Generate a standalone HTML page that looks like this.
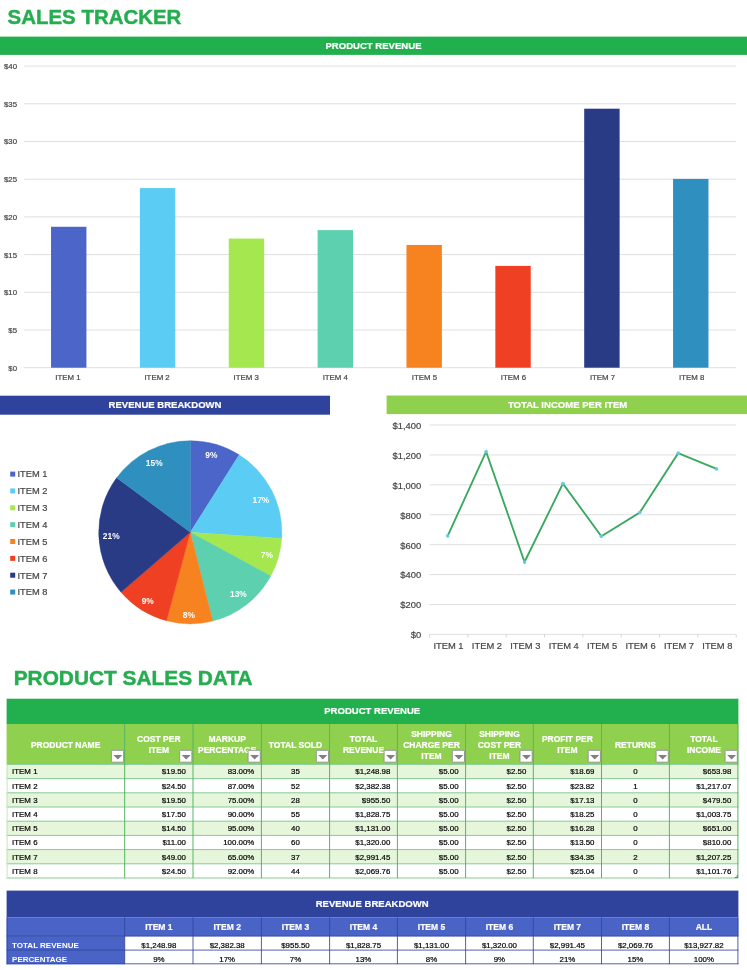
<!DOCTYPE html>
<html><head><meta charset="utf-8"><title>Sales Tracker</title>
<style>
html,body{margin:0;padding:0;background:#fff;}
body{width:747px;height:970px;position:relative;overflow:hidden;font-family:"Liberation Sans",Arial,sans-serif;}
svg{position:absolute;left:0;top:0;display:block;}
svg text{font-family:"Liberation Sans",Arial,sans-serif;}
.g{fill:#454545;stroke:#454545;stroke-width:0.2px;}
.ttl{font-weight:bold;fill:#25ad50;stroke:#25ad50;stroke-width:0.45px;}
.bd{font-weight:bold;fill:#fff;stroke:#fff;stroke-width:0.2px;text-anchor:middle;}
.hd{font-weight:bold;fill:#fff;stroke:#fff;stroke-width:0.2px;text-anchor:middle;}
.c{fill:#000;stroke:#000;stroke-width:0.2px;}
.cw{fill:#fff;font-weight:bold;}
.pl{font-weight:bold;fill:#fff;text-anchor:middle;}
</style></head><body>

<svg width="747" height="970" viewBox="0 0 747 970">
<text x="7.60" y="23.92" font-size="20.45" class="ttl">SALES TRACKER</text>
<text x="13.70" y="685.46" font-size="20.85" class="ttl">PRODUCT SALES DATA</text>
<rect x="0.00" y="36.60" width="747.00" height="18.30" fill="#22b04f"/>
<text x="373.50" y="49.07" font-size="9.55" class="bd">PRODUCT REVENUE</text>
<rect x="0.00" y="395.70" width="330.00" height="19.00" fill="#2f439c"/>
<text x="165.00" y="408.22" font-size="9.55" class="bd">REVENUE BREAKDOWN</text>
<rect x="386.60" y="395.50" width="360.40" height="18.60" fill="#8fd14f"/>
<text x="567.60" y="407.82" font-size="9.55" class="bd">TOTAL INCOME PER ITEM</text>
<line x1="24.20" y1="367.70" x2="736.00" y2="367.70" stroke="#d4d4d4" stroke-width="0.75"/>
<text x="17.00" y="370.69" font-size="7.8" class="g" text-anchor="end">$0</text>
<line x1="24.20" y1="330.00" x2="736.00" y2="330.00" stroke="#d4d4d4" stroke-width="0.75"/>
<text x="17.00" y="332.99" font-size="7.8" class="g" text-anchor="end">$5</text>
<line x1="24.20" y1="292.30" x2="736.00" y2="292.30" stroke="#d4d4d4" stroke-width="0.75"/>
<text x="17.00" y="295.29" font-size="7.8" class="g" text-anchor="end">$10</text>
<line x1="24.20" y1="254.60" x2="736.00" y2="254.60" stroke="#d4d4d4" stroke-width="0.75"/>
<text x="17.00" y="257.59" font-size="7.8" class="g" text-anchor="end">$15</text>
<line x1="24.20" y1="216.90" x2="736.00" y2="216.90" stroke="#d4d4d4" stroke-width="0.75"/>
<text x="17.00" y="219.89" font-size="7.8" class="g" text-anchor="end">$20</text>
<line x1="24.20" y1="179.20" x2="736.00" y2="179.20" stroke="#d4d4d4" stroke-width="0.75"/>
<text x="17.00" y="182.19" font-size="7.8" class="g" text-anchor="end">$25</text>
<line x1="24.20" y1="141.50" x2="736.00" y2="141.50" stroke="#d4d4d4" stroke-width="0.75"/>
<text x="17.00" y="144.49" font-size="7.8" class="g" text-anchor="end">$30</text>
<line x1="24.20" y1="103.80" x2="736.00" y2="103.80" stroke="#d4d4d4" stroke-width="0.75"/>
<text x="17.00" y="106.79" font-size="7.8" class="g" text-anchor="end">$35</text>
<line x1="24.20" y1="66.10" x2="736.00" y2="66.10" stroke="#d4d4d4" stroke-width="0.75"/>
<text x="17.00" y="69.09" font-size="7.8" class="g" text-anchor="end">$40</text>
<rect x="51.03" y="226.78" width="35.40" height="140.92" fill="#4b65c9"/>
<text x="68.00" y="380.21" font-size="7.85" class="g" text-anchor="middle">ITEM 1</text>
<rect x="139.89" y="188.10" width="35.40" height="179.60" fill="#5bccf3"/>
<text x="157.09" y="380.21" font-size="7.85" class="g" text-anchor="middle">ITEM 2</text>
<rect x="228.76" y="238.54" width="35.40" height="129.16" fill="#a5e74f"/>
<text x="246.18" y="380.21" font-size="7.85" class="g" text-anchor="middle">ITEM 3</text>
<rect x="317.62" y="230.09" width="35.40" height="137.61" fill="#5dd0b0"/>
<text x="335.27" y="380.21" font-size="7.85" class="g" text-anchor="middle">ITEM 4</text>
<rect x="406.48" y="244.95" width="35.40" height="122.75" fill="#f68220"/>
<text x="424.36" y="380.21" font-size="7.85" class="g" text-anchor="middle">ITEM 5</text>
<rect x="495.34" y="265.91" width="35.40" height="101.79" fill="#ef4023"/>
<text x="513.45" y="380.21" font-size="7.85" class="g" text-anchor="middle">ITEM 6</text>
<rect x="584.21" y="108.70" width="35.40" height="259.00" fill="#283b84"/>
<text x="602.54" y="380.21" font-size="7.85" class="g" text-anchor="middle">ITEM 7</text>
<rect x="673.07" y="178.90" width="35.40" height="188.80" fill="#2f8fbe"/>
<text x="691.63" y="380.21" font-size="7.85" class="g" text-anchor="middle">ITEM 8</text>
<path d="M190.3,532.3 L190.30,440.70 A91.6,91.6 0 0 1 239.22,454.86 Z" fill="#4b65c9" stroke="#4b65c9" stroke-width="0.4"/>
<path d="M190.3,532.3 L239.22,454.86 A91.6,91.6 0 0 1 281.69,538.47 Z" fill="#5bccf3" stroke="#5bccf3" stroke-width="0.4"/>
<path d="M190.3,532.3 L281.69,538.47 A91.6,91.6 0 0 1 270.75,576.09 Z" fill="#a5e74f" stroke="#a5e74f" stroke-width="0.4"/>
<path d="M190.3,532.3 L270.75,576.09 A91.6,91.6 0 0 1 212.73,621.11 Z" fill="#5dd0b0" stroke="#5dd0b0" stroke-width="0.4"/>
<path d="M190.3,532.3 L212.73,621.11 A91.6,91.6 0 0 1 166.50,620.75 Z" fill="#f68220" stroke="#f68220" stroke-width="0.4"/>
<path d="M190.3,532.3 L166.50,620.75 A91.6,91.6 0 0 1 120.98,592.18 Z" fill="#ef4023" stroke="#ef4023" stroke-width="0.4"/>
<path d="M190.3,532.3 L120.98,592.18 A91.6,91.6 0 0 1 116.67,477.81 Z" fill="#283b84" stroke="#283b84" stroke-width="0.4"/>
<path d="M190.3,532.3 L116.67,477.81 A91.6,91.6 0 0 1 190.30,440.70 Z" fill="#2f8fbe" stroke="#2f8fbe" stroke-width="0.4"/>
<text x="211.30" y="458.11" font-size="8.4" class="pl">9%</text>
<text x="260.90" y="502.71" font-size="8.4" class="pl">17%</text>
<text x="266.90" y="557.71" font-size="8.4" class="pl">7%</text>
<text x="238.40" y="597.31" font-size="8.4" class="pl">13%</text>
<text x="188.80" y="617.81" font-size="8.4" class="pl">8%</text>
<text x="147.70" y="603.81" font-size="8.4" class="pl">9%</text>
<text x="111.20" y="538.71" font-size="8.4" class="pl">21%</text>
<text x="154.20" y="465.61" font-size="8.4" class="pl">15%</text>
<rect x="10.20" y="471.60" width="5.00" height="5.00" fill="#4b65c9"/>
<text x="17.50" y="477.43" font-size="9.3" class="g">ITEM 1</text>
<rect x="10.20" y="488.45" width="5.00" height="5.00" fill="#5bccf3"/>
<text x="17.50" y="494.28" font-size="9.3" class="g">ITEM 2</text>
<rect x="10.20" y="505.30" width="5.00" height="5.00" fill="#a5e74f"/>
<text x="17.50" y="511.13" font-size="9.3" class="g">ITEM 3</text>
<rect x="10.20" y="522.15" width="5.00" height="5.00" fill="#5dd0b0"/>
<text x="17.50" y="527.98" font-size="9.3" class="g">ITEM 4</text>
<rect x="10.20" y="539.00" width="5.00" height="5.00" fill="#f68220"/>
<text x="17.50" y="544.83" font-size="9.3" class="g">ITEM 5</text>
<rect x="10.20" y="555.85" width="5.00" height="5.00" fill="#ef4023"/>
<text x="17.50" y="561.68" font-size="9.3" class="g">ITEM 6</text>
<rect x="10.20" y="572.70" width="5.00" height="5.00" fill="#283b84"/>
<text x="17.50" y="578.53" font-size="9.3" class="g">ITEM 7</text>
<rect x="10.20" y="589.55" width="5.00" height="5.00" fill="#2f8fbe"/>
<text x="17.50" y="595.38" font-size="9.3" class="g">ITEM 8</text>
<line x1="429.50" y1="634.40" x2="736.20" y2="634.40" stroke="#d4d4d4" stroke-width="0.75"/>
<text x="421.20" y="638.27" font-size="9.4" class="g" text-anchor="end">$0</text>
<line x1="429.50" y1="604.49" x2="736.20" y2="604.49" stroke="#d4d4d4" stroke-width="0.75"/>
<text x="421.20" y="608.36" font-size="9.4" class="g" text-anchor="end">$200</text>
<line x1="429.50" y1="574.58" x2="736.20" y2="574.58" stroke="#d4d4d4" stroke-width="0.75"/>
<text x="421.20" y="578.45" font-size="9.4" class="g" text-anchor="end">$400</text>
<line x1="429.50" y1="544.67" x2="736.20" y2="544.67" stroke="#d4d4d4" stroke-width="0.75"/>
<text x="421.20" y="548.54" font-size="9.4" class="g" text-anchor="end">$600</text>
<line x1="429.50" y1="514.76" x2="736.20" y2="514.76" stroke="#d4d4d4" stroke-width="0.75"/>
<text x="421.20" y="518.63" font-size="9.4" class="g" text-anchor="end">$800</text>
<line x1="429.50" y1="484.85" x2="736.20" y2="484.85" stroke="#d4d4d4" stroke-width="0.75"/>
<text x="421.20" y="488.72" font-size="9.4" class="g" text-anchor="end">$1,000</text>
<line x1="429.50" y1="454.94" x2="736.20" y2="454.94" stroke="#d4d4d4" stroke-width="0.75"/>
<text x="421.20" y="458.81" font-size="9.4" class="g" text-anchor="end">$1,200</text>
<line x1="429.50" y1="425.03" x2="736.20" y2="425.03" stroke="#d4d4d4" stroke-width="0.75"/>
<text x="421.20" y="428.90" font-size="9.4" class="g" text-anchor="end">$1,400</text>
<line x1="429.50" y1="634.40" x2="429.50" y2="637.40" stroke="#d4d4d4" stroke-width="1"/>
<line x1="467.84" y1="634.40" x2="467.84" y2="637.40" stroke="#d4d4d4" stroke-width="1"/>
<line x1="506.18" y1="634.40" x2="506.18" y2="637.40" stroke="#d4d4d4" stroke-width="1"/>
<line x1="544.51" y1="634.40" x2="544.51" y2="637.40" stroke="#d4d4d4" stroke-width="1"/>
<line x1="582.85" y1="634.40" x2="582.85" y2="637.40" stroke="#d4d4d4" stroke-width="1"/>
<line x1="621.19" y1="634.40" x2="621.19" y2="637.40" stroke="#d4d4d4" stroke-width="1"/>
<line x1="659.53" y1="634.40" x2="659.53" y2="637.40" stroke="#d4d4d4" stroke-width="1"/>
<line x1="697.86" y1="634.40" x2="697.86" y2="637.40" stroke="#d4d4d4" stroke-width="1"/>
<line x1="736.20" y1="634.40" x2="736.20" y2="637.40" stroke="#d4d4d4" stroke-width="1"/>
<text x="448.50" y="649.05" font-size="9.35" class="g" text-anchor="middle">ITEM 1</text>
<text x="486.91" y="649.05" font-size="9.35" class="g" text-anchor="middle">ITEM 2</text>
<text x="525.32" y="649.05" font-size="9.35" class="g" text-anchor="middle">ITEM 3</text>
<text x="563.73" y="649.05" font-size="9.35" class="g" text-anchor="middle">ITEM 4</text>
<text x="602.14" y="649.05" font-size="9.35" class="g" text-anchor="middle">ITEM 5</text>
<text x="640.55" y="649.05" font-size="9.35" class="g" text-anchor="middle">ITEM 6</text>
<text x="678.96" y="649.05" font-size="9.35" class="g" text-anchor="middle">ITEM 7</text>
<text x="717.37" y="649.05" font-size="9.35" class="g" text-anchor="middle">ITEM 8</text>
<polyline fill="none" stroke="#38a95f" stroke-width="1.85" stroke-linejoin="miter" points="447.70,535.90 486.11,451.69 524.52,561.99 562.93,483.59 601.34,536.34 639.75,512.56 678.16,453.16 716.57,468.93"/>
<circle cx="447.70" cy="535.90" r="1.8" fill="#63c9e8"/>
<circle cx="486.11" cy="451.69" r="1.8" fill="#63c9e8"/>
<circle cx="524.52" cy="561.99" r="1.8" fill="#63c9e8"/>
<circle cx="562.93" cy="483.59" r="1.8" fill="#63c9e8"/>
<circle cx="601.34" cy="536.34" r="1.8" fill="#63c9e8"/>
<circle cx="639.75" cy="512.56" r="1.8" fill="#63c9e8"/>
<circle cx="678.16" cy="453.16" r="1.8" fill="#63c9e8"/>
<circle cx="716.57" cy="468.93" r="1.8" fill="#63c9e8"/>
<rect x="6.60" y="698.70" width="731.80" height="25.30" fill="#22b04f"/>
<text x="372.20" y="714.27" font-size="9.55" class="bd">PRODUCT REVENUE</text>
<rect x="6.60" y="724.00" width="731.80" height="40.40" fill="#8fd14f"/>
<rect x="6.60" y="764.40" width="731.80" height="14.20" fill="#e6f6da"/>
<rect x="6.60" y="778.60" width="731.80" height="14.20" fill="#ffffff"/>
<rect x="6.60" y="792.80" width="731.80" height="14.20" fill="#e6f6da"/>
<rect x="6.60" y="807.00" width="731.80" height="14.20" fill="#ffffff"/>
<rect x="6.60" y="821.20" width="731.80" height="14.20" fill="#e6f6da"/>
<rect x="6.60" y="835.40" width="731.80" height="14.20" fill="#ffffff"/>
<rect x="6.60" y="849.60" width="731.80" height="14.20" fill="#e6f6da"/>
<rect x="6.60" y="863.80" width="731.80" height="14.20" fill="#ffffff"/>
<line x1="6.60" y1="764.40" x2="738.40" y2="764.40" stroke="#86cb96" stroke-width="1"/>
<line x1="6.60" y1="778.60" x2="738.40" y2="778.60" stroke="#86cb96" stroke-width="1"/>
<line x1="6.60" y1="792.80" x2="738.40" y2="792.80" stroke="#86cb96" stroke-width="1"/>
<line x1="6.60" y1="807.00" x2="738.40" y2="807.00" stroke="#86cb96" stroke-width="1"/>
<line x1="6.60" y1="821.20" x2="738.40" y2="821.20" stroke="#86cb96" stroke-width="1"/>
<line x1="6.60" y1="835.40" x2="738.40" y2="835.40" stroke="#86cb96" stroke-width="1"/>
<line x1="6.60" y1="849.60" x2="738.40" y2="849.60" stroke="#86cb96" stroke-width="1"/>
<line x1="6.60" y1="863.80" x2="738.40" y2="863.80" stroke="#86cb96" stroke-width="1"/>
<line x1="6.60" y1="878.00" x2="738.40" y2="878.00" stroke="#86cb96" stroke-width="1"/>
<line x1="7.10" y1="764.40" x2="7.10" y2="878.00" stroke="#c4e6bb" stroke-width="1"/>
<line x1="124.70" y1="724.00" x2="124.70" y2="878.00" stroke="#55b662" stroke-width="1"/>
<line x1="193.00" y1="724.00" x2="193.00" y2="878.00" stroke="#55b662" stroke-width="1"/>
<line x1="261.40" y1="724.00" x2="261.40" y2="878.00" stroke="#55b662" stroke-width="1"/>
<line x1="329.60" y1="724.00" x2="329.60" y2="878.00" stroke="#55b662" stroke-width="1"/>
<line x1="397.40" y1="724.00" x2="397.40" y2="878.00" stroke="#55b662" stroke-width="1"/>
<line x1="465.60" y1="724.00" x2="465.60" y2="878.00" stroke="#55b662" stroke-width="1"/>
<line x1="533.30" y1="724.00" x2="533.30" y2="878.00" stroke="#55b662" stroke-width="1"/>
<line x1="601.50" y1="724.00" x2="601.50" y2="878.00" stroke="#55b662" stroke-width="1"/>
<line x1="669.40" y1="724.00" x2="669.40" y2="878.00" stroke="#55b662" stroke-width="1"/>
<line x1="737.90" y1="724.00" x2="737.90" y2="878.00" stroke="#55b662" stroke-width="1"/>
<text x="65.65" y="747.94" font-size="8.5" class="hd">PRODUCT NAME</text>
<rect x="111.40" y="750.30" width="12.2" height="11.9" fill="#fff" stroke="#8f8f8f" stroke-width="0.9" rx="0.8"/>
<path d="M113.40,755.0 L122.40,755.0 L117.90,759.40 Z" fill="#808080"/>
<text x="158.85" y="742.39" font-size="8.5" class="hd">COST PER</text>
<text x="158.85" y="753.49" font-size="8.5" class="hd">ITEM</text>
<rect x="179.70" y="750.30" width="12.2" height="11.9" fill="#fff" stroke="#8f8f8f" stroke-width="0.9" rx="0.8"/>
<path d="M181.70,755.0 L190.70,755.0 L186.20,759.40 Z" fill="#808080"/>
<text x="227.20" y="742.39" font-size="8.5" class="hd">MARKUP</text>
<text x="227.20" y="753.49" font-size="8.5" class="hd">PERCENTAGE</text>
<rect x="248.10" y="750.30" width="12.2" height="11.9" fill="#fff" stroke="#8f8f8f" stroke-width="0.9" rx="0.8"/>
<path d="M250.10,755.0 L259.10,755.0 L254.60,759.40 Z" fill="#808080"/>
<text x="295.50" y="747.94" font-size="8.5" class="hd">TOTAL SOLD</text>
<rect x="316.30" y="750.30" width="12.2" height="11.9" fill="#fff" stroke="#8f8f8f" stroke-width="0.9" rx="0.8"/>
<path d="M318.30,755.0 L327.30,755.0 L322.80,759.40 Z" fill="#808080"/>
<text x="363.50" y="742.39" font-size="8.5" class="hd">TOTAL</text>
<text x="363.50" y="753.49" font-size="8.5" class="hd">REVENUE</text>
<rect x="384.10" y="750.30" width="12.2" height="11.9" fill="#fff" stroke="#8f8f8f" stroke-width="0.9" rx="0.8"/>
<path d="M386.10,755.0 L395.10,755.0 L390.60,759.40 Z" fill="#808080"/>
<text x="431.50" y="736.84" font-size="8.5" class="hd">SHIPPING</text>
<text x="431.50" y="747.94" font-size="8.5" class="hd">CHARGE PER</text>
<text x="431.50" y="759.04" font-size="8.5" class="hd">ITEM</text>
<rect x="452.30" y="750.30" width="12.2" height="11.9" fill="#fff" stroke="#8f8f8f" stroke-width="0.9" rx="0.8"/>
<path d="M454.30,755.0 L463.30,755.0 L458.80,759.40 Z" fill="#808080"/>
<text x="499.45" y="736.84" font-size="8.5" class="hd">SHIPPING</text>
<text x="499.45" y="747.94" font-size="8.5" class="hd">COST PER</text>
<text x="499.45" y="759.04" font-size="8.5" class="hd">ITEM</text>
<rect x="520.00" y="750.30" width="12.2" height="11.9" fill="#fff" stroke="#8f8f8f" stroke-width="0.9" rx="0.8"/>
<path d="M522.00,755.0 L531.00,755.0 L526.50,759.40 Z" fill="#808080"/>
<text x="567.40" y="742.39" font-size="8.5" class="hd">PROFIT PER</text>
<text x="567.40" y="753.49" font-size="8.5" class="hd">ITEM</text>
<rect x="588.20" y="750.30" width="12.2" height="11.9" fill="#fff" stroke="#8f8f8f" stroke-width="0.9" rx="0.8"/>
<path d="M590.20,755.0 L599.20,755.0 L594.70,759.40 Z" fill="#808080"/>
<text x="635.45" y="747.94" font-size="8.5" class="hd">RETURNS</text>
<rect x="656.10" y="750.30" width="12.2" height="11.9" fill="#fff" stroke="#8f8f8f" stroke-width="0.9" rx="0.8"/>
<path d="M658.10,755.0 L667.10,755.0 L662.60,759.40 Z" fill="#808080"/>
<text x="703.90" y="742.39" font-size="8.5" class="hd">TOTAL</text>
<text x="703.90" y="753.49" font-size="8.5" class="hd">INCOME</text>
<rect x="725.10" y="750.30" width="12.2" height="11.9" fill="#fff" stroke="#8f8f8f" stroke-width="0.9" rx="0.8"/>
<path d="M727.10,755.0 L736.10,755.0 L731.60,759.40 Z" fill="#808080"/>
<text x="12.10" y="774.38" font-size="7.9" class="c">ITEM 1</text>
<text x="186.00" y="774.38" font-size="7.9" class="c" text-anchor="end">$19.50</text>
<text x="254.40" y="774.38" font-size="7.9" class="c" text-anchor="end">83.00%</text>
<text x="295.50" y="774.38" font-size="7.9" class="c" text-anchor="middle">35</text>
<text x="390.40" y="774.38" font-size="7.9" class="c" text-anchor="end">$1,248.98</text>
<text x="458.60" y="774.38" font-size="7.9" class="c" text-anchor="end">$5.00</text>
<text x="526.30" y="774.38" font-size="7.9" class="c" text-anchor="end">$2.50</text>
<text x="594.50" y="774.38" font-size="7.9" class="c" text-anchor="end">$18.69</text>
<text x="635.45" y="774.38" font-size="7.9" class="c" text-anchor="middle">0</text>
<text x="731.40" y="774.38" font-size="7.9" class="c" text-anchor="end">$653.98</text>
<text x="12.10" y="788.58" font-size="7.9" class="c">ITEM 2</text>
<text x="186.00" y="788.58" font-size="7.9" class="c" text-anchor="end">$24.50</text>
<text x="254.40" y="788.58" font-size="7.9" class="c" text-anchor="end">87.00%</text>
<text x="295.50" y="788.58" font-size="7.9" class="c" text-anchor="middle">52</text>
<text x="390.40" y="788.58" font-size="7.9" class="c" text-anchor="end">$2,382.38</text>
<text x="458.60" y="788.58" font-size="7.9" class="c" text-anchor="end">$5.00</text>
<text x="526.30" y="788.58" font-size="7.9" class="c" text-anchor="end">$2.50</text>
<text x="594.50" y="788.58" font-size="7.9" class="c" text-anchor="end">$23.82</text>
<text x="635.45" y="788.58" font-size="7.9" class="c" text-anchor="middle">1</text>
<text x="731.40" y="788.58" font-size="7.9" class="c" text-anchor="end">$1,217.07</text>
<text x="12.10" y="802.78" font-size="7.9" class="c">ITEM 3</text>
<text x="186.00" y="802.78" font-size="7.9" class="c" text-anchor="end">$19.50</text>
<text x="254.40" y="802.78" font-size="7.9" class="c" text-anchor="end">75.00%</text>
<text x="295.50" y="802.78" font-size="7.9" class="c" text-anchor="middle">28</text>
<text x="390.40" y="802.78" font-size="7.9" class="c" text-anchor="end">$955.50</text>
<text x="458.60" y="802.78" font-size="7.9" class="c" text-anchor="end">$5.00</text>
<text x="526.30" y="802.78" font-size="7.9" class="c" text-anchor="end">$2.50</text>
<text x="594.50" y="802.78" font-size="7.9" class="c" text-anchor="end">$17.13</text>
<text x="635.45" y="802.78" font-size="7.9" class="c" text-anchor="middle">0</text>
<text x="731.40" y="802.78" font-size="7.9" class="c" text-anchor="end">$479.50</text>
<text x="12.10" y="816.98" font-size="7.9" class="c">ITEM 4</text>
<text x="186.00" y="816.98" font-size="7.9" class="c" text-anchor="end">$17.50</text>
<text x="254.40" y="816.98" font-size="7.9" class="c" text-anchor="end">90.00%</text>
<text x="295.50" y="816.98" font-size="7.9" class="c" text-anchor="middle">55</text>
<text x="390.40" y="816.98" font-size="7.9" class="c" text-anchor="end">$1,828.75</text>
<text x="458.60" y="816.98" font-size="7.9" class="c" text-anchor="end">$5.00</text>
<text x="526.30" y="816.98" font-size="7.9" class="c" text-anchor="end">$2.50</text>
<text x="594.50" y="816.98" font-size="7.9" class="c" text-anchor="end">$18.25</text>
<text x="635.45" y="816.98" font-size="7.9" class="c" text-anchor="middle">0</text>
<text x="731.40" y="816.98" font-size="7.9" class="c" text-anchor="end">$1,003.75</text>
<text x="12.10" y="831.18" font-size="7.9" class="c">ITEM 5</text>
<text x="186.00" y="831.18" font-size="7.9" class="c" text-anchor="end">$14.50</text>
<text x="254.40" y="831.18" font-size="7.9" class="c" text-anchor="end">95.00%</text>
<text x="295.50" y="831.18" font-size="7.9" class="c" text-anchor="middle">40</text>
<text x="390.40" y="831.18" font-size="7.9" class="c" text-anchor="end">$1,131.00</text>
<text x="458.60" y="831.18" font-size="7.9" class="c" text-anchor="end">$5.00</text>
<text x="526.30" y="831.18" font-size="7.9" class="c" text-anchor="end">$2.50</text>
<text x="594.50" y="831.18" font-size="7.9" class="c" text-anchor="end">$16.28</text>
<text x="635.45" y="831.18" font-size="7.9" class="c" text-anchor="middle">0</text>
<text x="731.40" y="831.18" font-size="7.9" class="c" text-anchor="end">$651.00</text>
<text x="12.10" y="845.38" font-size="7.9" class="c">ITEM 6</text>
<text x="186.00" y="845.38" font-size="7.9" class="c" text-anchor="end">$11.00</text>
<text x="254.40" y="845.38" font-size="7.9" class="c" text-anchor="end">100.00%</text>
<text x="295.50" y="845.38" font-size="7.9" class="c" text-anchor="middle">60</text>
<text x="390.40" y="845.38" font-size="7.9" class="c" text-anchor="end">$1,320.00</text>
<text x="458.60" y="845.38" font-size="7.9" class="c" text-anchor="end">$5.00</text>
<text x="526.30" y="845.38" font-size="7.9" class="c" text-anchor="end">$2.50</text>
<text x="594.50" y="845.38" font-size="7.9" class="c" text-anchor="end">$13.50</text>
<text x="635.45" y="845.38" font-size="7.9" class="c" text-anchor="middle">0</text>
<text x="731.40" y="845.38" font-size="7.9" class="c" text-anchor="end">$810.00</text>
<text x="12.10" y="859.58" font-size="7.9" class="c">ITEM 7</text>
<text x="186.00" y="859.58" font-size="7.9" class="c" text-anchor="end">$49.00</text>
<text x="254.40" y="859.58" font-size="7.9" class="c" text-anchor="end">65.00%</text>
<text x="295.50" y="859.58" font-size="7.9" class="c" text-anchor="middle">37</text>
<text x="390.40" y="859.58" font-size="7.9" class="c" text-anchor="end">$2,991.45</text>
<text x="458.60" y="859.58" font-size="7.9" class="c" text-anchor="end">$5.00</text>
<text x="526.30" y="859.58" font-size="7.9" class="c" text-anchor="end">$2.50</text>
<text x="594.50" y="859.58" font-size="7.9" class="c" text-anchor="end">$34.35</text>
<text x="635.45" y="859.58" font-size="7.9" class="c" text-anchor="middle">2</text>
<text x="731.40" y="859.58" font-size="7.9" class="c" text-anchor="end">$1,207.25</text>
<text x="12.10" y="873.78" font-size="7.9" class="c">ITEM 8</text>
<text x="186.00" y="873.78" font-size="7.9" class="c" text-anchor="end">$24.50</text>
<text x="254.40" y="873.78" font-size="7.9" class="c" text-anchor="end">92.00%</text>
<text x="295.50" y="873.78" font-size="7.9" class="c" text-anchor="middle">44</text>
<text x="390.40" y="873.78" font-size="7.9" class="c" text-anchor="end">$2,069.76</text>
<text x="458.60" y="873.78" font-size="7.9" class="c" text-anchor="end">$5.00</text>
<text x="526.30" y="873.78" font-size="7.9" class="c" text-anchor="end">$2.50</text>
<text x="594.50" y="873.78" font-size="7.9" class="c" text-anchor="end">$25.04</text>
<text x="635.45" y="873.78" font-size="7.9" class="c" text-anchor="middle">0</text>
<text x="731.40" y="873.78" font-size="7.9" class="c" text-anchor="end">$1,101.76</text>
<path d="M737.2,875 L737.2,877.6 L734.8,877.6" fill="none" stroke="#4f74a8" stroke-width="1"/>
<rect x="6.60" y="890.60" width="731.80" height="26.70" fill="#2f439c"/>
<text x="372.20" y="907.27" font-size="9.55" class="bd">REVENUE BREAKDOWN</text>
<rect x="6.60" y="917.30" width="731.80" height="18.80" fill="#4a63c7"/>
<rect x="6.60" y="936.10" width="118.10" height="28.10" fill="#4a63c7"/>
<line x1="6.60" y1="936.10" x2="738.40" y2="936.10" stroke="#33469d" stroke-width="0.85"/>
<line x1="6.60" y1="950.10" x2="738.40" y2="950.10" stroke="#33469d" stroke-width="0.85"/>
<line x1="6.60" y1="963.80" x2="738.40" y2="963.80" stroke="#33469d" stroke-width="0.85"/>
<line x1="7.10" y1="917.30" x2="7.10" y2="964.20" stroke="#33469d" stroke-width="0.85"/>
<line x1="124.70" y1="917.30" x2="124.70" y2="964.20" stroke="#33469d" stroke-width="0.85"/>
<line x1="193.00" y1="917.30" x2="193.00" y2="964.20" stroke="#33469d" stroke-width="0.85"/>
<line x1="261.40" y1="917.30" x2="261.40" y2="964.20" stroke="#33469d" stroke-width="0.85"/>
<line x1="329.60" y1="917.30" x2="329.60" y2="964.20" stroke="#33469d" stroke-width="0.85"/>
<line x1="397.40" y1="917.30" x2="397.40" y2="964.20" stroke="#33469d" stroke-width="0.85"/>
<line x1="465.60" y1="917.30" x2="465.60" y2="964.20" stroke="#33469d" stroke-width="0.85"/>
<line x1="533.30" y1="917.30" x2="533.30" y2="964.20" stroke="#33469d" stroke-width="0.85"/>
<line x1="601.50" y1="917.30" x2="601.50" y2="964.20" stroke="#33469d" stroke-width="0.85"/>
<line x1="669.40" y1="917.30" x2="669.40" y2="964.20" stroke="#33469d" stroke-width="0.85"/>
<line x1="737.90" y1="917.30" x2="737.90" y2="964.20" stroke="#33469d" stroke-width="0.85"/>
<text x="158.85" y="930.44" font-size="8.5" class="hd">ITEM 1</text>
<text x="227.20" y="930.44" font-size="8.5" class="hd">ITEM 2</text>
<text x="295.50" y="930.44" font-size="8.5" class="hd">ITEM 3</text>
<text x="363.50" y="930.44" font-size="8.5" class="hd">ITEM 4</text>
<text x="431.50" y="930.44" font-size="8.5" class="hd">ITEM 5</text>
<text x="499.45" y="930.44" font-size="8.5" class="hd">ITEM 6</text>
<text x="567.40" y="930.44" font-size="8.5" class="hd">ITEM 7</text>
<text x="635.45" y="930.44" font-size="8.5" class="hd">ITEM 8</text>
<text x="703.90" y="930.44" font-size="8.5" class="hd">ALL</text>
<text x="12.10" y="947.66" font-size="8.0" class="cw">TOTAL REVENUE</text>
<text x="158.85" y="947.63" font-size="7.9" class="c" text-anchor="middle">$1,248.98</text>
<text x="227.20" y="947.63" font-size="7.9" class="c" text-anchor="middle">$2,382.38</text>
<text x="295.50" y="947.63" font-size="7.9" class="c" text-anchor="middle">$955.50</text>
<text x="363.50" y="947.63" font-size="7.9" class="c" text-anchor="middle">$1,828.75</text>
<text x="431.50" y="947.63" font-size="7.9" class="c" text-anchor="middle">$1,131.00</text>
<text x="499.45" y="947.63" font-size="7.9" class="c" text-anchor="middle">$1,320.00</text>
<text x="567.40" y="947.63" font-size="7.9" class="c" text-anchor="middle">$2,991.45</text>
<text x="635.45" y="947.63" font-size="7.9" class="c" text-anchor="middle">$2,069.76</text>
<text x="703.90" y="947.63" font-size="7.9" class="c" text-anchor="middle">$13,927.82</text>
<text x="12.10" y="961.96" font-size="8.0" class="cw">PERCENTAGE</text>
<text x="158.85" y="961.93" font-size="7.9" class="c" text-anchor="middle">9%</text>
<text x="227.20" y="961.93" font-size="7.9" class="c" text-anchor="middle">17%</text>
<text x="295.50" y="961.93" font-size="7.9" class="c" text-anchor="middle">7%</text>
<text x="363.50" y="961.93" font-size="7.9" class="c" text-anchor="middle">13%</text>
<text x="431.50" y="961.93" font-size="7.9" class="c" text-anchor="middle">8%</text>
<text x="499.45" y="961.93" font-size="7.9" class="c" text-anchor="middle">9%</text>
<text x="567.40" y="961.93" font-size="7.9" class="c" text-anchor="middle">21%</text>
<text x="635.45" y="961.93" font-size="7.9" class="c" text-anchor="middle">15%</text>
<text x="703.90" y="961.93" font-size="7.9" class="c" text-anchor="middle">100%</text>
</svg>
</body></html>
